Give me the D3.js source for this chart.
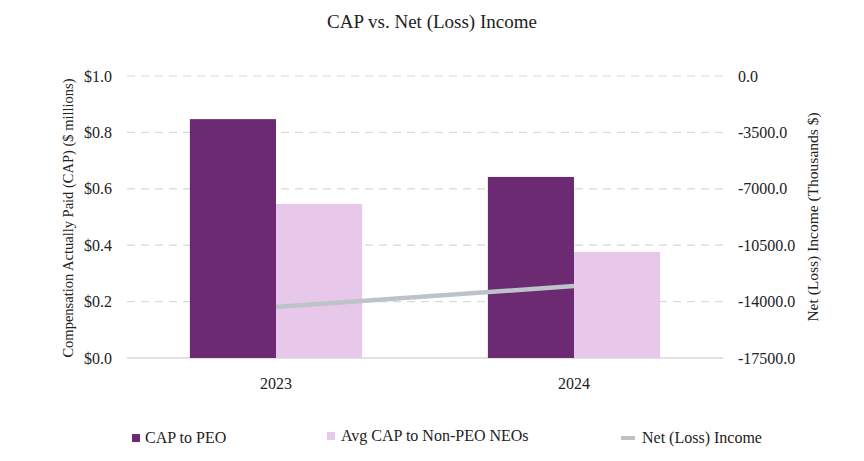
<!DOCTYPE html>
<html>
<head>
<meta charset="utf-8">
<script src="https://cdn.jsdelivr.net/npm/d3@7"></script>
<style>
  body { margin: 0; background: #fff; }
</style>
</head>
<body>
<div class="chart"></div>
<script>
const years = ["2023", "2024"];
const capPeo = [0.847, 0.642];
const capNonPeo = [0.546, 0.376];
const netIncome = [-14335, -13032];
const leftTicks = [0, 0.2, 0.4, 0.6, 0.8, 1.0];
const rightTicks = [0, -3500, -7000, -10500, -14000, -17500];

const width = 864, height = 461;
const m = {left: 127, right: 141, top: 76, bottom: 103};
const font = "'Liberation Serif', 'Times New Roman', serif";

const svg = d3.select(".chart").append("svg")
  .attr("width", width).attr("height", height)
  .attr("font-family", font)
  .attr("fill", "#222");

const x = d3.scaleBand().domain(years).range([m.left, width - m.right]);
const yL = d3.scaleLinear().domain([0, 1]).range([height - m.bottom, m.top]);
const yR = d3.scaleLinear().domain([-17500, 0]).range([height - m.bottom, m.top]);
const barW = x.bandwidth() * 0.289;

// grid
svg.append("g").selectAll("line")
  .data(leftTicks.filter(d => d > 0))
  .enter().append("line")
  .attr("x1", m.left).attr("x2", width - m.right)
  .attr("y1", d => yL(d)).attr("y2", d => yL(d))
  .attr("stroke", "#d9d9d9").attr("stroke-width", 1.2)
  .attr("stroke-dasharray", "8,6");

svg.append("line")
  .attr("x1", m.left).attr("x2", width - m.right)
  .attr("y1", yL(0)).attr("y2", yL(0))
  .attr("stroke", "#d9d9d9").attr("stroke-width", 1.5);

// bars
const cx = d => x(d) + x.bandwidth() / 2;
svg.append("g").selectAll("rect")
  .data(years).enter().append("rect")
  .attr("x", d => cx(d) - barW)
  .attr("y", (d, i) => yL(capPeo[i]))
  .attr("width", barW)
  .attr("height", (d, i) => yL(0) - yL(capPeo[i]))
  .attr("fill", "#6b2a72");

svg.append("g").selectAll("rect")
  .data(years).enter().append("rect")
  .attr("x", d => cx(d))
  .attr("y", (d, i) => yL(capNonPeo[i]))
  .attr("width", barW)
  .attr("height", (d, i) => yL(0) - yL(capNonPeo[i]))
  .attr("fill", "#e8c8ea");

// line
const line = d3.line()
  .x((d, i) => cx(years[i]))
  .y(d => yR(d));
svg.append("path")
  .datum(netIncome)
  .attr("d", line)
  .attr("fill", "none")
  .attr("stroke", "#bcc3c9")
  .attr("stroke-width", 4.5);

// axes labels
svg.append("g").selectAll("text")
  .data(leftTicks).enter().append("text")
  .attr("x", 112).attr("y", d => yL(d))
  .attr("dy", "0.35em").attr("text-anchor", "end")
  .attr("font-size", 16)
  .text(d => "$" + d3.format(".1f")(d));

svg.append("g").selectAll("text")
  .data(rightTicks).enter().append("text")
  .attr("x", 738).attr("y", d => yR(d))
  .attr("dy", "0.35em").attr("text-anchor", "start")
  .attr("font-size", 16)
  .text(d => d3.format(".1f")(d).replace("−", "-"));

svg.append("g").selectAll("text")
  .data(years).enter().append("text")
  .attr("x", d => cx(d)).attr("y", 389)
  .attr("text-anchor", "middle")
  .attr("font-size", 16)
  .text(d => d);

svg.append("text")
  .attr("transform", "translate(73," + (yL(0.5) + 1) + ") rotate(-90)")
  .attr("text-anchor", "middle")
  .attr("font-size", 14.5)
  .text("Compensation Actually Paid (CAP) ($ millions)");

svg.append("text")
  .attr("transform", "translate(818," + (yL(0.5)) + ") rotate(-90)")
  .attr("text-anchor", "middle")
  .attr("font-size", 15.5)
  .text("Net (Loss) Income (Thousands $)");

svg.append("text")
  .attr("x", width / 2).attr("y", 28)
  .attr("text-anchor", "middle")
  .attr("font-size", 19)
  .text("CAP vs. Net (Loss) Income");

// legend
const lg = svg.append("g").attr("font-size", 16);
lg.append("rect").attr("x", 132).attr("y", 434).attr("width", 8).attr("height", 8).attr("fill", "#6b2a72");
lg.append("text").attr("x", 145).attr("y", 443).text("CAP to PEO");
lg.append("rect").attr("x", 327).attr("y", 432).attr("width", 8).attr("height", 8).attr("fill", "#e8c8ea");
lg.append("text").attr("x", 341).attr("y", 441).text("Avg CAP to Non-PEO NEOs");
lg.append("line").attr("x1", 621).attr("x2", 635).attr("y1", 438).attr("y2", 438)
  .attr("stroke", "#bcc3c9").attr("stroke-width", 4);
lg.append("text").attr("x", 642).attr("y", 443).text("Net (Loss) Income");
</script>
</body>
</html>
